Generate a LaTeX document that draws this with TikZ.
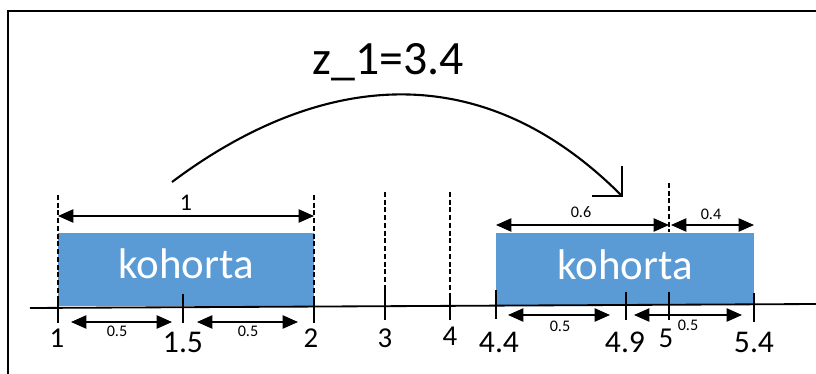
\documentclass[tikz,border=0pt]{standalone}
\usepackage{fontspec}
\setmainfont{Carlito}
\usepackage{xcolor}
\usepackage{tikz}
\usetikzlibrary{arrows.meta, positioning, calc}

\definecolor{cohortblue}{HTML}{5B9BD5}

\begin{document}
\begin{tikzpicture}[
      x=0.025cm, y=-0.025cm,
      every node/.style={inner sep=0pt, anchor=base},
      axlabel/.style={font=\fontsize{20.5}{22}\selectfont},
      axlabelbig/.style={font=\fontsize{22.5}{24}\selectfont},
      dimlabel/.style={font=\fontsize{11.5}{13}\selectfont},
      cohorttext/.style={font=\fontsize{30.5}{32}\selectfont, text=white},
      guide/.style={line width=1pt, dash pattern=on 3.5pt off 2pt},
      tickline/.style={line width=1.2pt},
      dim/.style={line width=1.1pt, {Triangle[length=11pt,width=9.5pt]}-{Triangle[length=11pt,width=9.5pt]}}
    ]
      \useasboundingbox (0,0) rectangle (816,374);
      % frame
      \draw[line width=1.6pt] (8,374) -- (8,11) -- (816,11);
      % cohorts
      \fill[cohortblue] (58,233) rectangle (314,306);
      \fill[cohortblue] (496,233) rectangle (754,305);
      \node[cohorttext] (kohA) at (186,278) {kohorta};
      \node[cohorttext] (kohB) at (625,279) {kohorta};
      % axis
      \draw[line width=1.3pt] (30,308) -- (816,304);
      % ticks
      \foreach \name/\x/\top/\bot in {t1/58/296/323, t15/183/294/323, t2/314/298/323,
          t3/385/290/320, t4/450/293/320, t44/496/290/319, t49/626/292/320,
          t5/669/292/320, t54/754/293/322} {
        \coordinate (\name) at (\x,306);
        \draw[tickline] (\x,\top) -- (\x,\bot);
      }
      % guides
      \draw[guide] (t1 |- 0,195) -- (t1 |- 0,296);
      \draw[guide] (t2 |- 0,195) -- (t2 |- 0,298);
      \draw[guide] (t3 |- 0,192) -- (t3 |- 0,290);
      \draw[guide] (t4 |- 0,192) -- (t4 |- 0,293);
      \draw[guide] (t5 |- 0,183) -- (t5 |- 0,232);
      % axis labels
      \node[axlabel] (l1) at (57,347) {1};
      \node[axlabelbig] (l15) at (183,352) {1.5};
      \node[axlabel] (l2) at (311,347) {2};
      \node[axlabel] (l3) at (385,347) {3};
      \node[axlabel] (l4) at (450,345) {4};
      \node[axlabelbig] (l44) at (499,352) {4.4};
      \node[axlabelbig] (l49) at (625,352) {4.9};
      \node[axlabel] (l5) at (666,347) {5};
      \node[axlabelbig] (l54) at (754,352) {5.4};
      % dimensions
      \draw[dim] (t1 |- 0,216) -- (t2 |- 0,216);
      \node[font=\fontsize{17}{19}\selectfont] (w1) at (186,210) {1};
      \draw[dim] ($(t1)+(13,16)$) -- ($(t15)+(-11,16)$);
      \draw[dim] ($(t15)+(14,16)$) -- ($(t2)+(-16,16)$);
      \node[dimlabel] (h1) at (117,336) {0.5};
      \node[dimlabel] (h2) at (248,336) {0.5};
      \draw[dim] ($(t44)+(12,9)$) -- ($(t49)+(-16,9)$);
      \draw[dim] ($(t49)+(8,9)$) -- ($(t54)+(-12,9)$);
      \node[dimlabel] (h3) at (560,331) {0.5};
      \node[dimlabel] (h4) at (688,330) {0.5};
      \draw[dim] (t44 |- 0,225) -- (t5 |- 0,225);
      \draw[dim] ($(t5 |- 0,225)+(2,0)$) -- (t54 |- 0,225);
      \node[dimlabel] (s6) at (581,217) {0.6};
      \node[dimlabel] (s4) at (711,219) {0.4};
      % shift
      \node[font=\fontsize{34}{36}\selectfont] (shift) at (388,75) {z\_1=3.4};
      \coordinate (from) at (172,182);
      \coordinate (to) at (623,197);
      \draw[line width=1.5pt, -{Straight Barb[length=15pt,width=30pt]}]
        (from) .. controls (300,86) and (467,41) .. (to);
    \end{tikzpicture}
\end{document}
